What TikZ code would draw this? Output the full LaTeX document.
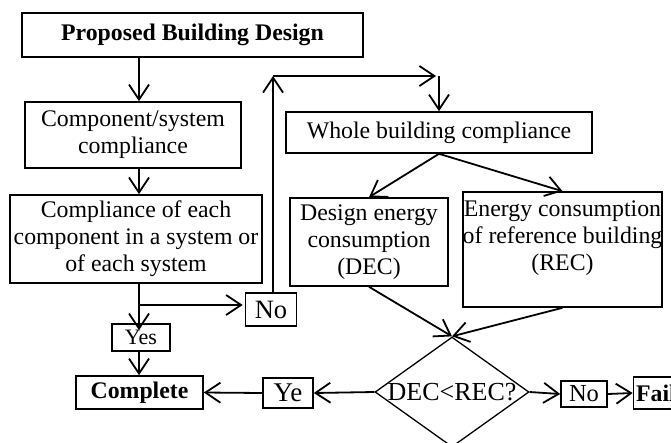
\documentclass[tikz,border=0pt]{standalone}
\usepackage{fontspec}
\setmainfont{Liberation Serif}
\usetikzlibrary{arrows.meta,shapes.geometric,calc}
\tikzset{
    flowbox/.style={
        draw,
        line width=1.6pt,
        align=center,
        inner sep=0pt
    },
    % open arrow heads as in the flow chart
    flowarrow/.style={
        line width=1.8pt,
        -{Straight Barb[length=15pt, width=20pt, line width=1.8pt]}
    }
}

\begin{document}
\begin{tikzpicture}[x=1pt, y=-1pt, font=\fontsize{23.8}{27}\selectfont]
	\useasboundingbox (0,0) rectangle (671,442);
	\node[flowbox, minimum width=341, minimum height=44, font=\fontsize{23.8}{27}\selectfont\bfseries] (design) at (192.5,35) {Proposed Building Design};
	\node[flowbox, minimum width=216, minimum height=66] (comp) at (133,135) {Component/system\\compliance};
	\node[flowbox, minimum width=252, minimum height=88] (each) at (136,239) {Compliance of each\\component in a system or\\of each system};
	\node[flowbox, minimum width=51, minimum height=33, font=\fontsize{26.5}{27}\selectfont] (no1) at (271,309.5) {No};
	\node[flowbox, minimum width=58, minimum height=27, font=\fontsize{22}{24}\selectfont] (yes1) at (141,337.5) {Yes};
	\node[flowbox, minimum width=127, minimum height=33, font=\fontsize{23.8}{27}\selectfont\bfseries] (complete) at (139.5,392.5) {Complete};
	\node[flowbox, minimum width=50, minimum height=30, font=\fontsize{27}{27}\selectfont] (ye) at (288,393) {Ye};
	
	\node[flowbox, minimum width=306, minimum height=41] (whole) at (439,132.5) {Whole building compliance};
	\node[flowbox, minimum width=158, minimum height=88] (dec) at (369,242) {Design energy\\consumption\\(DEC)};
	\node[flowbox, minimum width=199, minimum height=115] (rec) at (562.5,249.5) {Energy consumption\\of reference building\\(REC)\\~};
	\node[draw, diamond, line width=1.3pt, inner sep=0pt, aspect=1.4, minimum width=154, minimum height=110, font=\fontsize{26}{27}\selectfont] (check) at (452,392) {DEC<REC?};
	\node[flowbox, minimum width=46, minimum height=26, font=\fontsize{24.5}{27}\selectfont] (no2) at (584,394) {No};
	\node[flowbox, minimum width=45, minimum height=32, font=\fontsize{23.8}{27}\selectfont\bfseries] (fail) at (656,393) {Fail};
	
	\coordinate (spine) at (139,0);
	\coordinate (split) at (139,305);
	\coordinate (loop) at (273,76);
	
	\draw[flowarrow] (design.south -| spine) -- (comp.north -| spine);
	\draw[flowarrow] (comp.south -| spine) -- (each.north -| spine);
	\draw[flowarrow] (each.south -| spine) -- ([yshift=-7]yes1.north -| spine);
	\draw[flowarrow] (split) -- ([xshift=-2]split -| no1.west);
	\draw[flowarrow] (yes1.south -| spine) -- (complete.north -| spine);
	
	\draw[flowarrow] (no1.north -| loop) -- (loop);
	\draw[flowarrow] (loop) -- ([xshift=-3]loop -| whole.north);
	\draw[flowarrow] (loop -| whole.north) -- (whole.north);
	
	\draw[flowarrow] (whole.south) -- (dec.north);
	\draw[flowarrow] (whole.south) -- (rec.north);
	\draw[flowarrow] (dec.south) -- (check.north);
	\draw[flowarrow] (rec.south) -- (check.north);
	
	\draw[flowarrow] (check.west) -- (ye.east);
	\draw[flowarrow] (ye.west) -- (complete.east);
	\draw[flowarrow] (check.east) -- (no2.west);
	\draw[flowarrow] (no2.east) -- (fail.west);
\end{tikzpicture}
\end{document}
